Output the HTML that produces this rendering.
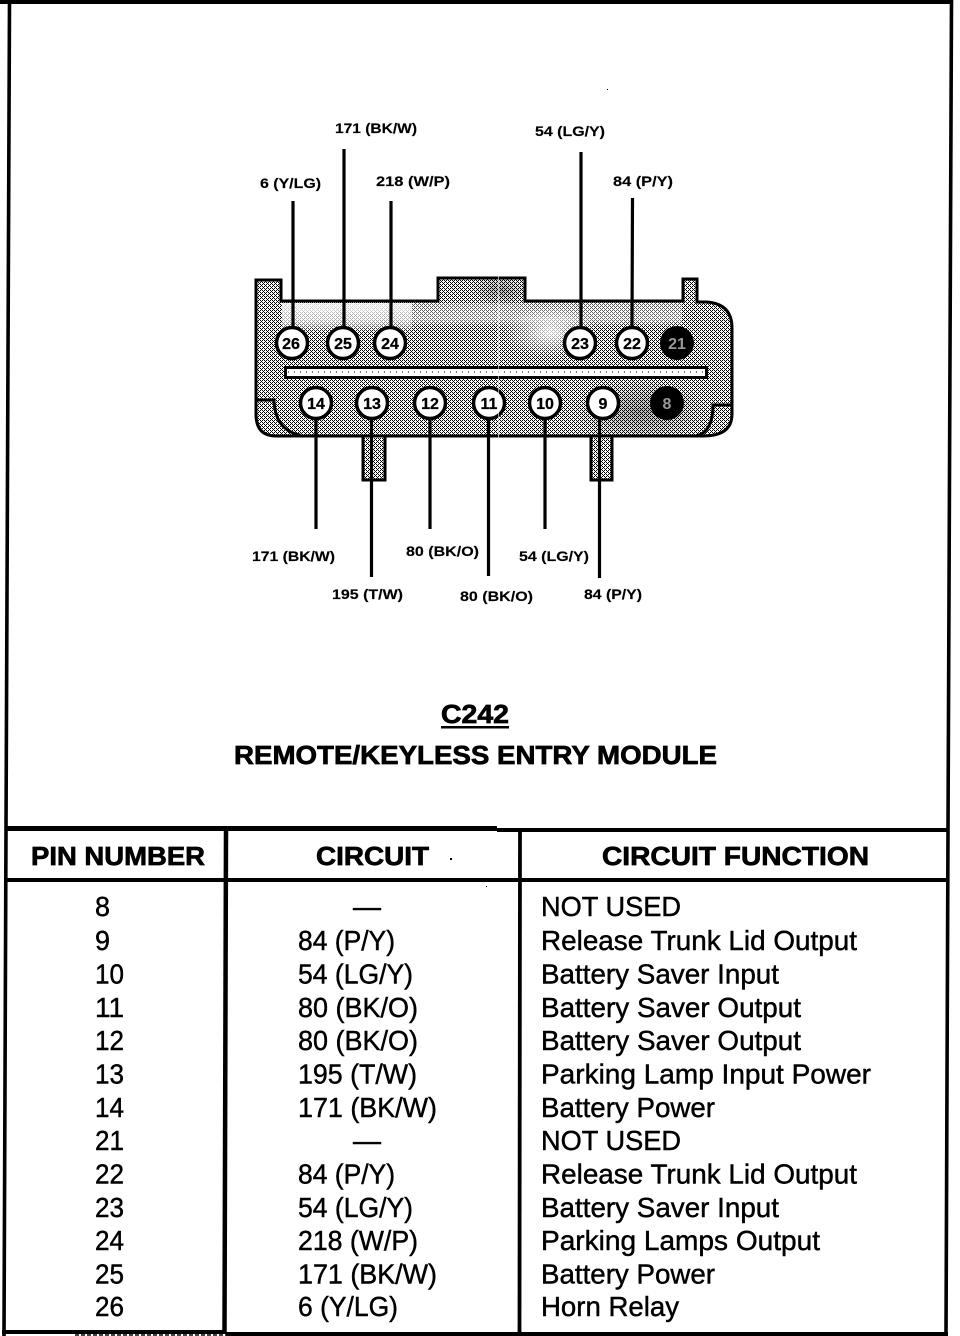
<!DOCTYPE html>
<html><head><meta charset="utf-8"><style>
html,body{margin:0;padding:0;background:#fff;width:960px;height:1336px;overflow:hidden}
svg{display:block}
text{font-family:"Liberation Sans",sans-serif;fill:#000}
.l{font-size:14px;font-weight:bold;stroke:#000;stroke-width:.15}
.h{font-size:26px;font-weight:bold;stroke:#000;stroke-width:.7}
.b{font-size:28px;stroke:#000;stroke-width:.45}
.p{font-size:16px;font-weight:bold;stroke:#000;stroke-width:.3}
</style></head><body>
<svg width="960" height="1336" viewBox="0 0 960 1336" xmlns="http://www.w3.org/2000/svg">
<defs>
<pattern id="p37" width="4" height="4" patternUnits="userSpaceOnUse"><rect x="0" y="0" width="1" height="1"/><rect x="2" y="0" width="1" height="1"/><rect x="1" y="1" width="1" height="1"/><rect x="0" y="2" width="1" height="1"/><rect x="2" y="2" width="1" height="1"/><rect x="3" y="3" width="1" height="1"/></pattern>
<pattern id="p50" width="2" height="2" patternUnits="userSpaceOnUse"><rect x="0" y="0" width="1" height="1"/><rect x="1" y="1" width="1" height="1"/></pattern>
<linearGradient id="fadeL" x1="0" y1="0" x2="0" y2="1"><stop offset="0" stop-color="#fff" stop-opacity=".88"/><stop offset=".6" stop-color="#fff" stop-opacity=".65"/><stop offset="1" stop-color="#fff" stop-opacity="0"/></linearGradient>
<linearGradient id="fadeR" x1="0" y1="0" x2="0" y2="1"><stop offset="0" stop-color="#fff" stop-opacity=".3"/><stop offset=".7" stop-color="#fff" stop-opacity=".45"/><stop offset="1" stop-color="#fff" stop-opacity="0"/></linearGradient>
<radialGradient id="blank"><stop offset="0" stop-color="#fff" stop-opacity=".85"/><stop offset="1" stop-color="#fff" stop-opacity="0"/></radialGradient>
<radialGradient id="dense"><stop offset="0" stop-color="#000" stop-opacity=".3"/><stop offset="1" stop-color="#000" stop-opacity="0"/></radialGradient>
<clipPath id="body"><path d="M256 280H281V301H438V278H525V301H683V279H697V302H707Q733 304 733 328V414Q733 437 703 437H276Q256 437 256 414Z"/></clipPath>
</defs>

<!-- outer frame -->
<path d="M0 2H952" stroke="#000" stroke-width="4" fill="none"/>
<path d="M9.5 0L6 830L4 1336" stroke="#000" stroke-width="3.6" fill="none"/>
<path d="M951.5 0L948 830L946 1336" stroke="#000" stroke-width="3.6" fill="none"/>

<!-- connector fill -->
<g clip-path="url(#body)">
<rect x="250" y="270" width="490" height="175" fill="url(#p37)"/>
<rect x="282" y="303" width="130" height="30" fill="url(#fadeL)"/>
<rect x="412" y="303" width="270" height="24" fill="url(#fadeR)"/>
<ellipse cx="550" cy="332" rx="48" ry="26" fill="url(#blank)"/>
<ellipse cx="640" cy="412" rx="70" ry="34" fill="url(#dense)"/>
<ellipse cx="500" cy="290" rx="30" ry="16" fill="url(#dense)"/>
</g>

<!-- connector outline -->
<path d="M256 280H281V301H438V278H525V301H683V279H697V302H707Q732 304 732 328V414Q732 436 703 436H276Q256 436 256 414Z" fill="none" stroke="#000" stroke-width="3"/>
<path d="M257 400H274Q275 430 300 435" fill="none" stroke="#000" stroke-width="3"/>
<path d="M731 405H713Q713 432 696 436" fill="none" stroke="#000" stroke-width="3"/>

<!-- lower tabs -->
<g shape-rendering="crispEdges">
<rect x="363" y="438" width="22" height="42" fill="#fff"/>
<rect x="363" y="438" width="22" height="42" fill="url(#p37)"/>
<rect x="591" y="438" width="21" height="42" fill="#fff"/>
<rect x="591" y="438" width="21" height="42" fill="url(#p37)"/>
</g>
<path d="M363 437V480H385V437M591 437V480H612V437" fill="none" stroke="#000" stroke-width="3"/>

<!-- slot -->
<rect x="285.5" y="367.5" width="421" height="10" fill="#fff" stroke="#000" stroke-width="3"/>
<path d="M288 372H704" stroke="#000" stroke-width="1" stroke-dasharray="1 5"/>

<!-- leads -->
<g stroke="#000" stroke-width="3.2" fill="none">
<path d="M293 201V327M344 149V327M391 201V327M581 152V327M632.5 198L632 327"/>
<path d="M316 419V529M371.5 419V577M430 419V529M488.5 419V576M545 419V529M599.5 419V578"/>
</g>

<!-- pins -->
<g fill="#fff" stroke="#000" stroke-width="3.5">
<circle cx="292" cy="343" r="15.5"/><circle cx="343" cy="343" r="15.5"/><circle cx="390" cy="343" r="15.5"/>
<circle cx="580" cy="343" r="15.5"/><circle cx="632" cy="343" r="15.5"/>
<circle cx="316" cy="403" r="15.5"/><circle cx="372" cy="403" r="15.5"/><circle cx="430" cy="403" r="15.5"/>
<circle cx="489" cy="403" r="15.5"/><circle cx="545" cy="403" r="15.5"/><circle cx="603" cy="403" r="15.5"/>
</g>
<circle cx="677" cy="343" r="17"/><circle cx="667" cy="403" r="17"/>
<g text-anchor="middle">
<text class="p" x="291" y="349">26</text><text class="p" x="343" y="349">25</text><text class="p" x="390" y="349">24</text>
<text class="p" x="580" y="349">23</text><text class="p" x="632" y="349">22</text>
<text class="p" x="316" y="409">14</text><text class="p" x="372" y="409">13</text><text class="p" x="430" y="409">12</text>
<text class="p" x="489" y="409">11</text><text class="p" x="545" y="409">10</text><text class="p" x="603" y="409">9</text>
<text class="p" x="677" y="349" style="fill:#999;stroke-width:0">21</text>
<text class="p" x="667" y="409" style="fill:#999;stroke-width:0">8</text>
</g>
<path d="M498.5 276V440" stroke="#fff" stroke-width=".6"/>

<!-- wire labels -->
<text class="l" x="335" y="133" textLength="82" lengthAdjust="spacingAndGlyphs">171 (BK/W)</text>
<text class="l" x="535" y="136" textLength="70" lengthAdjust="spacingAndGlyphs">54 (LG/Y)</text>
<text class="l" x="260" y="188" textLength="61" lengthAdjust="spacingAndGlyphs">6 (Y/LG)</text>
<text class="l" x="376" y="186" textLength="74" lengthAdjust="spacingAndGlyphs">218 (W/P)</text>
<text class="l" x="613" y="186" textLength="60" lengthAdjust="spacingAndGlyphs">84 (P/Y)</text>
<text class="l" x="252" y="561" textLength="83" lengthAdjust="spacingAndGlyphs">171 (BK/W)</text>
<text class="l" x="406" y="556" textLength="73" lengthAdjust="spacingAndGlyphs">80 (BK/O)</text>
<text class="l" x="519" y="561" textLength="70" lengthAdjust="spacingAndGlyphs">54 (LG/Y)</text>
<text class="l" x="332" y="599" textLength="71" lengthAdjust="spacingAndGlyphs">195 (T/W)</text>
<text class="l" x="460" y="601" textLength="73" lengthAdjust="spacingAndGlyphs">80 (BK/O)</text>
<text class="l" x="584" y="599" textLength="58" lengthAdjust="spacingAndGlyphs">84 (P/Y)</text>

<!-- title -->
<text class="h" x="441" y="723" textLength="68" lengthAdjust="spacingAndGlyphs">C242</text>
<rect x="441" y="726" width="68" height="2.5"/>
<text class="h" x="234" y="764" textLength="483" lengthAdjust="spacingAndGlyphs">REMOTE/KEYLESS ENTRY MODULE</text>

<!-- table lines -->
<g shape-rendering="crispEdges">
<rect x="5" y="826" width="492" height="5"/>
<rect x="497" y="828" width="452" height="4"/>
<rect x="5" y="878" width="944" height="4"/>
<rect x="2" y="1330" width="224" height="4"/>
<rect x="226" y="1332" width="722" height="4"/>
</g>
<path d="M226 830L224.5 1332" stroke="#000" stroke-width="4.5" fill="none"/>
<path d="M520 830L519.5 1334" stroke="#000" stroke-width="3.8" fill="none"/>
<path d="M75 1335H226" stroke="#000" stroke-width="1.5" stroke-dasharray="4 2" fill="none"/>

<!-- table header -->
<text class="h" x="31" y="865" textLength="174" lengthAdjust="spacingAndGlyphs">PIN NUMBER</text>
<text class="h" x="316" y="865" textLength="113" lengthAdjust="spacingAndGlyphs">CIRCUIT</text>
<text class="h" x="602" y="865" textLength="267" lengthAdjust="spacingAndGlyphs">CIRCUIT FUNCTION</text>

<!-- column 1 -->
<text class="b" x="95" y="916" textLength="15" lengthAdjust="spacingAndGlyphs">8</text>
<text class="b" x="95" y="950" textLength="15" lengthAdjust="spacingAndGlyphs">9</text>
<text class="b" x="95" y="983.5" textLength="29" lengthAdjust="spacingAndGlyphs">10</text>
<text class="b" x="95" y="1017" textLength="29" lengthAdjust="spacingAndGlyphs">11</text>
<text class="b" x="95" y="1050" textLength="29" lengthAdjust="spacingAndGlyphs">12</text>
<text class="b" x="95" y="1083.5" textLength="29" lengthAdjust="spacingAndGlyphs">13</text>
<text class="b" x="95" y="1117" textLength="29" lengthAdjust="spacingAndGlyphs">14</text>
<text class="b" x="95" y="1150" textLength="29" lengthAdjust="spacingAndGlyphs">21</text>
<text class="b" x="95" y="1183.5" textLength="29" lengthAdjust="spacingAndGlyphs">22</text>
<text class="b" x="95" y="1217" textLength="29" lengthAdjust="spacingAndGlyphs">23</text>
<text class="b" x="95" y="1250" textLength="29" lengthAdjust="spacingAndGlyphs">24</text>
<text class="b" x="95" y="1283.5" textLength="29" lengthAdjust="spacingAndGlyphs">25</text>
<text class="b" x="95" y="1316" textLength="29" lengthAdjust="spacingAndGlyphs">26</text>

<!-- column 2 -->
<text class="b" x="353" y="916" textLength="28" lengthAdjust="spacingAndGlyphs">—</text>
<text class="b" x="298" y="950" textLength="97" lengthAdjust="spacingAndGlyphs">84 (P/Y)</text>
<text class="b" x="298" y="983.5" textLength="115" lengthAdjust="spacingAndGlyphs">54 (LG/Y)</text>
<text class="b" x="298" y="1017" textLength="120" lengthAdjust="spacingAndGlyphs">80 (BK/O)</text>
<text class="b" x="298" y="1050" textLength="120" lengthAdjust="spacingAndGlyphs">80 (BK/O)</text>
<text class="b" x="298" y="1083.5" textLength="119" lengthAdjust="spacingAndGlyphs">195 (T/W)</text>
<text class="b" x="298" y="1117" textLength="139" lengthAdjust="spacingAndGlyphs">171 (BK/W)</text>
<text class="b" x="353" y="1150" textLength="28" lengthAdjust="spacingAndGlyphs">—</text>
<text class="b" x="298" y="1183.5" textLength="97" lengthAdjust="spacingAndGlyphs">84 (P/Y)</text>
<text class="b" x="298" y="1217" textLength="115" lengthAdjust="spacingAndGlyphs">54 (LG/Y)</text>
<text class="b" x="298" y="1250" textLength="120" lengthAdjust="spacingAndGlyphs">218 (W/P)</text>
<text class="b" x="298" y="1283.5" textLength="139" lengthAdjust="spacingAndGlyphs">171 (BK/W)</text>
<text class="b" x="298" y="1316" textLength="100" lengthAdjust="spacingAndGlyphs">6 (Y/LG)</text>

<!-- column 3 -->
<text class="b" x="541" y="916" textLength="140" lengthAdjust="spacingAndGlyphs">NOT USED</text>
<text class="b" x="541" y="950" textLength="316" lengthAdjust="spacingAndGlyphs">Release Trunk Lid Output</text>
<text class="b" x="541" y="983.5" textLength="238" lengthAdjust="spacingAndGlyphs">Battery Saver Input</text>
<text class="b" x="541" y="1017" textLength="260" lengthAdjust="spacingAndGlyphs">Battery Saver Output</text>
<text class="b" x="541" y="1050" textLength="260" lengthAdjust="spacingAndGlyphs">Battery Saver Output</text>
<text class="b" x="541" y="1083.5" textLength="330" lengthAdjust="spacingAndGlyphs">Parking Lamp Input Power</text>
<text class="b" x="541" y="1117" textLength="174" lengthAdjust="spacingAndGlyphs">Battery Power</text>
<text class="b" x="541" y="1150" textLength="140" lengthAdjust="spacingAndGlyphs">NOT USED</text>
<text class="b" x="541" y="1183.5" textLength="316" lengthAdjust="spacingAndGlyphs">Release Trunk Lid Output</text>
<text class="b" x="541" y="1217" textLength="238" lengthAdjust="spacingAndGlyphs">Battery Saver Input</text>
<text class="b" x="541" y="1250" textLength="279" lengthAdjust="spacingAndGlyphs">Parking Lamps Output</text>
<text class="b" x="541" y="1283.5" textLength="174" lengthAdjust="spacingAndGlyphs">Battery Power</text>
<text class="b" x="541" y="1316" textLength="138" lengthAdjust="spacingAndGlyphs">Horn Relay</text>

<!-- specks -->
<rect x="450" y="858" width="2" height="2"/>
<rect x="486" y="886" width="1" height="1"/>
<rect x="607" y="89" width="1" height="1"/>
</svg>
</body></html>
